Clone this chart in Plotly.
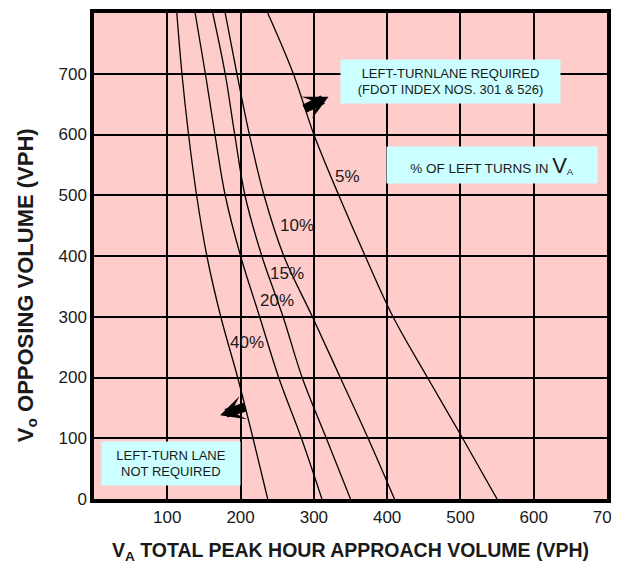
import plotly.graph_objects as go

# Opposing volume levels (y) and the approach volume (x) of each curve at those levels
vo_levels = [0, 100, 200, 300, 400, 500, 600, 700, 800]
va_40 = [237, 217, 196, 173, 154, 140, 129, 120, 113]
va_20 = [311, 283, 252, 226, 200, 179, 165, 152, 138]
va_15 = [350, 317, 284, 258, 229, 206, 192, 179, 162]
va_10 = [410, 374, 336, 298, 259, 232, 212, 195, 179]
va_5 = [550, 503, 455, 408, 370, 334, 300, 272, 237]

curve_names = ["40%", "20%", "15%", "10%", "5%"]
curve_values = [va_40, va_20, va_15, va_10, va_5]
# label anchor positions (data units)
label_x = [209, 250, 264, 277, 346]
label_y = [257, 327, 371, 451, 531]

x_ticks = [100, 200, 300, 400, 500, 600, 700]
y_ticks = [0, 100, 200, 300, 400, 500, 600, 700]

FONT = "Liberation Sans, Arial, sans-serif"
TXT = "#1a1a1a"

fig = go.Figure()
for name, xs in zip(curve_names, curve_values):
    fig.add_trace(go.Scatter(
        x=xs, y=vo_levels, mode="lines", name=name,
        line=dict(color="black", width=1.3, shape="spline", smoothing=1.0),
        showlegend=False, hoverinfo="skip",
    ))

annotations = []
for name, lx, ly in zip(curve_names, label_x, label_y):
    annotations.append(dict(x=lx, y=ly, xref="x", yref="y", text=name,
                            showarrow=False, font=dict(size=17, color=TXT, family=FONT)))

box_bg = "#ccffff"
annotations += [
    dict(x=486, y=688, xref="x", yref="y",
         text="LEFT-TURNLANE REQUIRED<br>(FDOT INDEX NOS. 301 &amp; 526)",
         showarrow=False, bgcolor=box_bg, width=217, height=41, borderpad=1,
         font=dict(size=13, color=TXT, family=FONT)),
    dict(x=543, y=550, xref="x", yref="y",
         text="% OF LEFT TURNS IN <span style='font-size:22px'>V</span><sub>A</sub>",
         showarrow=False, bgcolor=box_bg, width=208, height=34, borderpad=1,
         font=dict(size=13.5, color=TXT, family=FONT)),
    dict(x=105, y=59, xref="x", yref="y",
         text="LEFT-TURN LANE<br>NOT REQUIRED",
         showarrow=False, bgcolor=box_bg, width=136, height=41, borderpad=1,
         font=dict(size=13, color=TXT, family=FONT)),
    # block arrows
    dict(x=320, y=662, ax=285, ay=641, xref="x", yref="y", axref="x", ayref="y",
         text="", showarrow=True, arrowhead=3, arrowwidth=9, arrowsize=0.45,
         arrowcolor="black", standoff=0, startstandoff=0),
    dict(x=172, y=138, ax=208, ay=152, xref="x", yref="y", axref="x", ayref="y",
         text="", showarrow=True, arrowhead=3, arrowwidth=9, arrowsize=0.45,
         arrowcolor="black", standoff=0, startstandoff=0),
    # y-axis title
    dict(x=0, y=0.44, xref="paper", yref="paper", xshift=-67,
         text="<b>V<sub>o</sub> OPPOSING VOLUME (VPH)</b>", textangle=-90,
         showarrow=False, xanchor="center", yanchor="middle",
         font=dict(size=22, color=TXT, family=FONT)),
]

fig.update_layout(
    width=619, height=565,
    margin=dict(l=86, r=20, t=1, b=74),
    paper_bgcolor="white", plot_bgcolor="#ffcccc",
    font=dict(family=FONT, color=TXT),
    annotations=annotations,
)
axis_common = dict(
    showgrid=True, gridcolor="black", gridwidth=1.5,
    showline=True, linecolor="black", linewidth=3.5, mirror=True,
    zeroline=False, ticks="", tickfont=dict(size=17, color=TXT, family=FONT),
    ticklabeloverflow="allow",
)
fig.update_xaxes(range=[0, 700], tickvals=x_ticks, **axis_common,
                 title=dict(text="<b>V<sub>A</sub> TOTAL PEAK HOUR APPROACH VOLUME (VPH)</b>",
                            font=dict(size=19.5, color=TXT, family=FONT), standoff=18))
fig.update_yaxes(range=[0, 800], tickvals=y_ticks, **axis_common)

fig.write_html("out.html")
